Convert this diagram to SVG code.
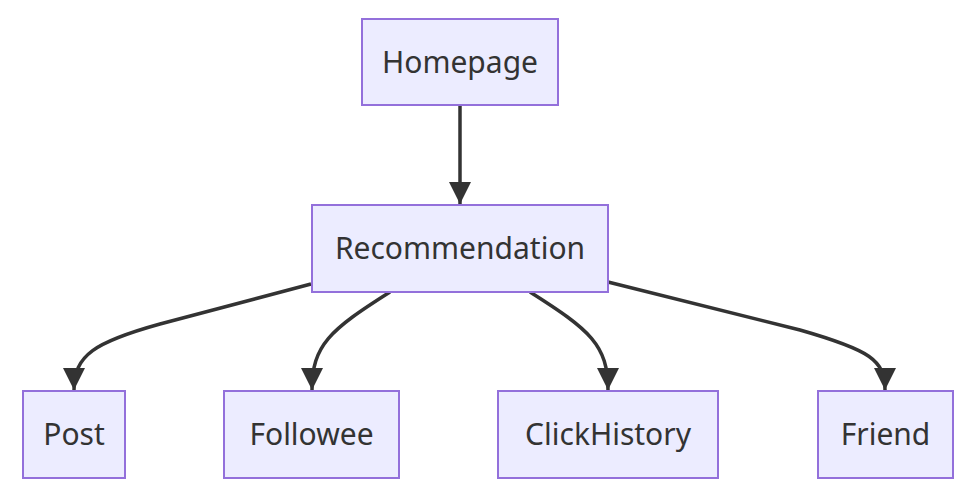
<svg xmlns="http://www.w3.org/2000/svg" width="976" height="500" viewBox="0 0 976 500">
<defs>
<style>
.node rect{fill:#ECECFF;stroke:#9370DB;stroke-width:2}
.node text{font-family:"Noto Sans","DejaVu Sans",sans-serif;font-size:30px;fill:#333;text-anchor:middle}
.edge{fill:none;stroke:#333;stroke-width:3.5}
</style>
<marker id="arrow" viewBox="0 0 10 10" refX="10" refY="5" markerUnits="userSpaceOnUse" markerWidth="24" markerHeight="22" orient="auto">
<path d="M0,0 L10,5 L0,10 z" fill="#333"/>
</marker>
</defs>
<rect width="976" height="500" fill="#fff"/>
<g id="edges">
<path class="edge" d="M460,105 L460,204" marker-end="url(#arrow)"/>
<path class="edge" d="M311,284 L160,324 C95,342 74,355 74,390" marker-end="url(#arrow)"/>
<path class="edge" d="M390,292 C330,330 312,345 312,390" marker-end="url(#arrow)"/>
<path class="edge" d="M530,292 C590,330 608,345 608,390" marker-end="url(#arrow)"/>
<path class="edge" d="M608,282 L800,330 C870,350 885,360 885,390" marker-end="url(#arrow)"/>
</g>
<g id="Homepage" class="node"><rect x="362" y="19" width="196" height="86"/><text x="460" y="73">Homepage</text></g>
<g id="Recommendation" class="node"><rect x="312" y="205" width="296" height="87"/><text x="460" y="259">Recommendation</text></g>
<g id="Post" class="node"><rect x="23" y="391" width="102" height="87"/><text x="74" y="445">Post</text></g>
<g id="Followee" class="node"><rect x="224" y="391" width="175" height="87"/><text x="311.5" y="445">Followee</text></g>
<g id="ClickHistory" class="node"><rect x="498" y="391" width="220" height="87"/><text x="608" y="445">ClickHistory</text></g>
<g id="Friend" class="node"><rect x="818" y="391" width="135" height="87"/><text x="885.5" y="445">Friend</text></g>
</svg>
